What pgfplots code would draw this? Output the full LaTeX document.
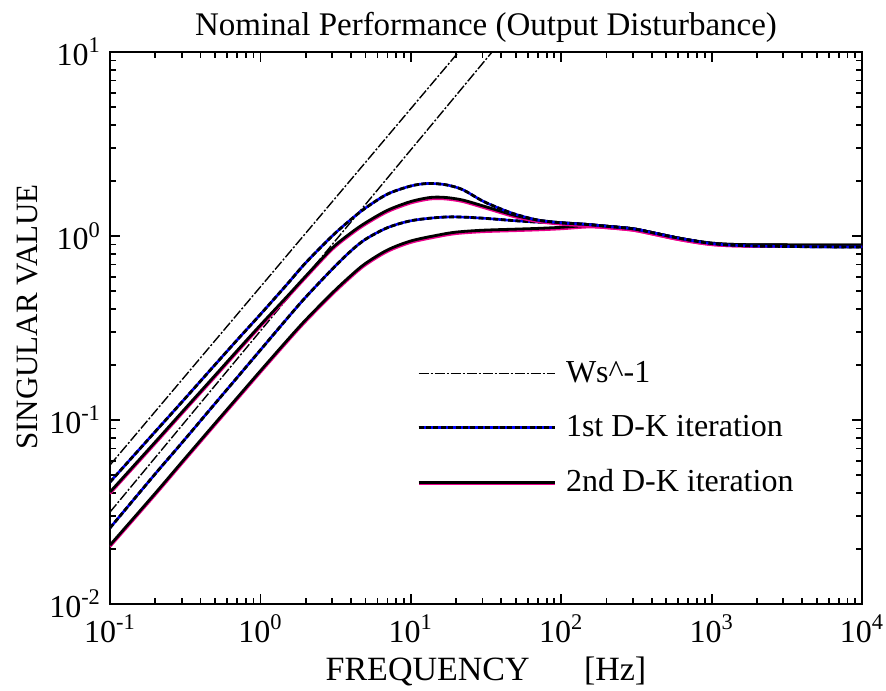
\documentclass[border=0pt]{standalone}
\usepackage{pgfplots}
\usepackage{pgfplotstable}
\pgfplotsset{compat=1.18}
\usepackage{fontspec}
\setmainfont{Liberation Serif}

\pgfplotstableread{
f v
0.1 0.0569
20.8 10
}\tWa
\pgfplotstableread{
f v
0.1 0.0316
34.7 10
}\tWb
\pgfplotstableread{
f v
0.1 0.046
0.2 0.0865
0.3 0.125
0.5 0.200
0.7 0.272
1 0.375
1.5 0.545
2 0.715
3 1.00
4 1.23
5 1.42
7 1.69
10 1.87
13 1.93
17 1.90
22 1.79
30 1.55
40 1.40
50 1.31
70 1.22
100 1.18
150 1.155
200 1.13
300 1.095
400 1.045
500 1.005
600 0.975
800 0.935
1000 0.91
1300 0.893
2000 0.882
5000 0.874
10000 0.872
}\tA
\pgfplotstableread{
f v
0.1 0.0406
0.2 0.076
0.3 0.110
0.5 0.175
0.7 0.238
1 0.328
1.5 0.468
2 0.605
3 0.86
4 1.04
5 1.18
7 1.38
10 1.54
13.5 1.62
17 1.62
22 1.57
30 1.46
40 1.36
50 1.29
70 1.22
100 1.18
150 1.155
200 1.13
300 1.095
400 1.045
500 1.005
600 0.975
800 0.937
1000 0.915
1300 0.902
2000 0.896
5000 0.894
10000 0.894
}\tB
\pgfplotstableread{
f v
0.1 0.0259
0.2 0.051
0.3 0.075
0.5 0.123
0.7 0.17
1 0.24
1.5 0.355
2 0.465
3 0.66
4 0.83
5 0.96
7 1.11
10 1.21
15 1.26
20 1.27
30 1.25
50 1.21
70 1.19
100 1.18
150 1.155
200 1.13
300 1.095
400 1.045
500 1.005
600 0.975
800 0.935
1000 0.91
1300 0.893
2000 0.882
5000 0.874
10000 0.872
}\tC
\pgfplotstableread{
f v
0.1 0.0209
0.2 0.040
0.3 0.059
0.5 0.096
0.7 0.132
1 0.185
1.5 0.27
2 0.35
3 0.49
4 0.61
5 0.71
7 0.84
10 0.94
15 1.01
20 1.05
30 1.075
50 1.09
70 1.10
100 1.115
150 1.14
200 1.13
300 1.095
400 1.045
500 1.005
600 0.975
800 0.937
1000 0.915
1300 0.902
2000 0.896
5000 0.894
10000 0.894
}\tD

\begin{document}
\begin{tikzpicture}
\begin{axis}[
  scale only axis, width=376pt, height=276pt,
  xmode=log, ymode=log,
  xmin=0.1, xmax=10000, ymin=0.01, ymax=10,
  xtick={0.1,1,10,100,1000,10000},
  xticklabels={10\textsuperscript{-1},10\textsuperscript{0},10\textsuperscript{1},10\textsuperscript{2},10\textsuperscript{3},10\textsuperscript{4}},
  ytick={0.01,0.1,1,10},
  yticklabels={10\textsuperscript{-2},10\textsuperscript{-1},10\textsuperscript{0},10\textsuperscript{1}},
  minor xtick={0.2,0.3,0.4,0.5,0.6,0.7,0.8,0.9,2,3,4,5,6,7,8,9,20,30,40,50,60,70,80,90,200,300,400,500,600,700,800,900,2000,3000,4000,5000,6000,7000,8000,9000},
  minor ytick={0.02,0.03,0.04,0.05,0.06,0.07,0.08,0.09,0.2,0.3,0.4,0.5,0.6,0.7,0.8,0.9,2,3,4,5,6,7,8,9},
  tick align=inside, major tick length=5pt, minor tick length=3pt,
  axis line style={line width=1.1pt},
  every tick/.style={black, line width=0.9pt},
  tick label style={font=\fontsize{16}{18}\selectfont},
  xticklabel style={yshift=-2pt},
  yticklabel style={xshift=-1pt},
  title={Nominal Performance (Output Disturbance)},
  title style={font=\fontsize{16.5}{19}\selectfont, yshift=-5pt},
  xlabel={FREQUENCY\hspace{1.6em}[Hz]},
  xlabel style={font=\fontsize{17}{19}\selectfont, at={(axis description cs:0.5,-0.122)}, anchor=center},
  ylabel={SINGULAR VALUE},
  ylabel style={font=\fontsize{15.5}{18}\selectfont, at={(axis description cs:-0.11,0.52)}, anchor=center},
  legend style={at={(rel axis cs:0.40,0.455)}, anchor=north west, draw=none, fill=none,
    font=\fontsize{16}{18}\selectfont, row sep=11pt,
    nodes={inner xsep=5pt}},
  legend cell align=left,
]
% Ws^-1
\addplot[black, line width=0.7pt, dash pattern=on 5pt off 1pt on 1pt off 1pt, forget plot] table {\tWa};
\addplot[black, line width=0.7pt, dash pattern=on 5pt off 1pt on 1pt off 1pt, forget plot] table {\tWb};
% 2nd D-K lower
\addplot[magenta, line width=1.3pt, yshift=-0.8pt, smooth, tension=0.5, forget plot] table {\tD};
\addplot[black, line width=1.4pt, smooth, tension=0.5, forget plot] table {\tD};
% 1st D-K lower
\addplot[blue, line width=1.3pt, smooth, tension=0.5, forget plot] table {\tC};
\addplot[black, line width=1.4pt, dash pattern=on 2.5pt off 1.2pt, smooth, tension=0.5, forget plot] table {\tC};
% 2nd D-K upper
\addplot[magenta, line width=1.3pt, yshift=-0.8pt, smooth, tension=0.5, forget plot] table {\tB};
\addplot[black, line width=1.4pt, smooth, tension=0.5, forget plot] table {\tB};
% 1st D-K upper
\addplot[blue, line width=1.3pt, smooth, tension=0.5, forget plot] table {\tA};
\addplot[black, line width=1.4pt, dash pattern=on 2.5pt off 1.2pt, smooth, tension=0.5, forget plot] table {\tA};

\addlegendimage{legend image code/.code={\draw[black, line width=0.7pt, dash pattern=on 5pt off 1pt on 1pt off 1pt] (0pt,0pt) -- (68pt,0pt);}}
\addlegendentry{Ws\^{}-1}
\addlegendimage{legend image code/.code={\draw[blue, line width=1.3pt] (0pt,0pt) -- (68pt,0pt); \draw[black, line width=1.4pt, dash pattern=on 2.5pt off 1.2pt] (0pt,0pt) -- (68pt,0pt);}}
\addlegendentry{1st D-K iteration}
\addlegendimage{legend image code/.code={\draw[magenta, line width=1.3pt] (0pt,-0.8pt) -- (68pt,-0.8pt); \draw[black, line width=1.4pt] (0pt,0pt) -- (68pt,0pt);}}
\addlegendentry{2nd D-K iteration}
\end{axis}
\pgfresetboundingbox
\useasboundingbox ([xshift=-55pt,yshift=-43pt]current axis.south west) rectangle ([xshift=12pt,yshift=26pt]current axis.north east);
\end{tikzpicture}
\end{document}
